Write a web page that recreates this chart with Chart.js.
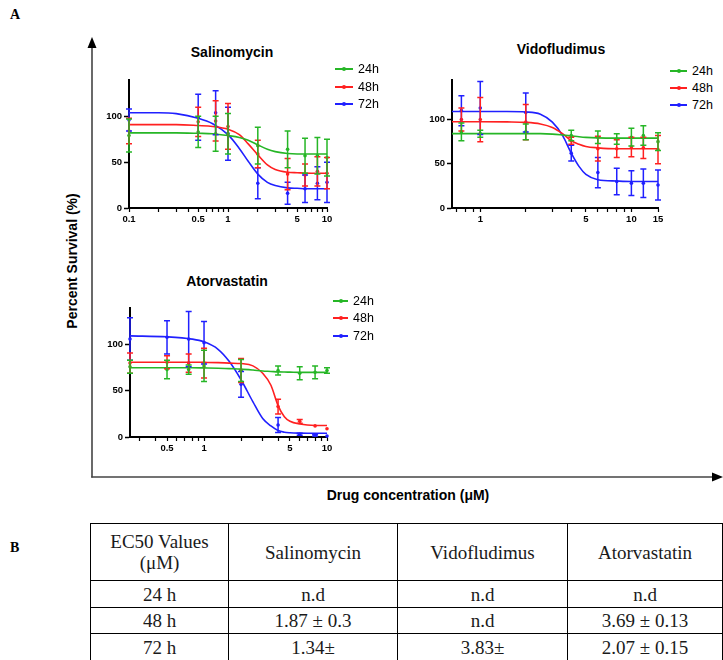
<!DOCTYPE html>
<html>
<head>
<meta charset="utf-8">
<script src="https://cdn.jsdelivr.net/npm/chart.js@4.4.1/dist/chart.umd.min.js"></script>
<style>
  html, body { margin: 0; padding: 0; background: #fff; }
  body { width: 723px; height: 660px; position: relative; overflow: hidden; font-family: 'Liberation Sans', Arial, sans-serif; color: #000; }
  canvas.panel { position: absolute; }
  .ptitle { position: absolute; font-weight: bold; font-size: 14px; transform: translate(-50%, -50%); white-space: nowrap; }
  .leg { position: absolute; font-size: 12.5px; }
  .leg div { position: absolute; left: 0; display: flex; align-items: center; height: 16px; transform: translateY(-50%); white-space: nowrap; }
  .leg .ln { display: inline-block; height: 2px; position: relative; margin-right: 5px; }
  .leg .ln i { position: absolute; left: 50%; top: 50%; width: 4px; height: 4px; margin: -2px 0 0 -2px; border-radius: 50%; background: inherit; }
  .serif { position: absolute; font-family: 'Liberation Serif', serif; font-weight: bold; font-size: 14px; }
  #ytitle { position: absolute; left: 72px; top: 261px; transform: translate(-50%, -50%) rotate(-90deg); font-weight: bold; font-size: 14px; white-space: nowrap; }
  #xtitle { position: absolute; left: 408px; top: 495px; transform: translate(-50%, -50%); font-weight: bold; font-size: 14px; white-space: nowrap; }
  #ec50 { position: absolute; left: 90px; top: 523px; border-collapse: collapse; font-family: 'Liberation Serif', serif; font-size: 19px; color: #1a1a1a; table-layout: fixed; }
  #ec50 td { border: 1px solid #000; text-align: center; vertical-align: middle; padding: 0; line-height: 21px; }
</style>
</head>
<body>
<div class="serif" style="left:10px; top:7px;">A</div>
<div class="serif" style="left:10px; top:540px;">B</div>

<svg style="position:absolute; left:0; top:0;" width="723" height="520">
  <line x1="92" y1="45" x2="92" y2="477.5" stroke="#444" stroke-width="1.6"/>
  <line x1="91.2" y1="477" x2="714" y2="477" stroke="#444" stroke-width="1.6"/>
  <polygon points="92,37 87.5,48 96.5,48" fill="#000"/>
  <polygon points="723,477 712,472.5 712,481.5" fill="#000"/>
</svg>
<div id="ytitle">Percent Survival (%)</div>
<div id="xtitle">Drug concentration (μM)</div>

<div class="ptitle" style="left:232px; top:52px;">Salinomycin</div>
<div class="ptitle" style="left:561px; top:49px;">Vidofludimus</div>
<div class="ptitle" style="left:227px; top:281px;">Atorvastatin</div>

<canvas id="salChart" class="panel"></canvas>
<canvas id="vidChart" class="panel"></canvas>
<canvas id="atoChart" class="panel"></canvas>

<div class="leg" id="salLeg" style="left:335px; top:0;"></div>
<div class="leg" id="vidLeg" style="left:670px; top:0;"></div>
<div class="leg" id="atoLeg" style="left:333px; top:0;"></div>

<table id="ec50"></table>

<script>
// series names and colours
const timeLabels = ['24h', '48h', '72h'];
const timeColors = ['#26b626', '#ff2020', '#2020ff'];
const yTicks = [0, 50, 100];

// Salinomycin
const salConc = [0.1, 0.5, 0.75, 1, 2, 4, 6, 8, 10];
const sal24 = [79, 83, 81, 81, 68, 64, 57, 57, 55];
const sal24Err = [18, 17, 19, 22, 20, 20, 19, 20, 20];
const sal48 = [84, 94, 95, 89, 59, 37, 36, 40, 38];
const sal48Err = [14, 16, 22, 25, 15, 17, 12, 16, 17];
const sal72 = [96, 99, 104, 81, 27, 16, 21, 27, 28];
const sal72Err = [12, 25, 24, 29, 17, 12, 15, 18, 22];
const salFitX = [0.1, 0.2, 0.3, 0.5, 0.7, 1, 1.3, 1.6, 2, 2.5, 3, 4, 5, 7, 10];
const salFit24 = [82, 82, 82, 81.5, 81, 79, 77, 74, 69, 64, 61.5, 59.5, 59, 59, 59];
const salFit48 = [91, 91, 91, 90, 89, 86, 80, 70, 58, 47, 42, 39, 38.5, 38, 38];
const salFit72 = [104, 104, 103, 98, 92, 80, 65, 51, 37, 28, 24.5, 22, 21.5, 21, 21];
const salTickLabels = [0.1, 0.5, 1, 5, 10];

// Vidofludimus
const vidConc = [0.75, 1, 2, 4, 6, 8, 10, 12, 15];
const vid24 = [86, 84, 86, 82, 80, 78, 80, 82, 75];
const vid24Err = [10, 4, 9, 6, 7, 6, 10, 11, 10];
const vid48 = [100, 100, 97, 76, 67, 67, 69, 68, 66];
const vid48Err = [13, 25, 20, 4, 14, 10, 11, 12, 16];
const vid72 = [110, 113, 108, 62, 40, 30, 28, 28, 26];
const vid72Err = [17, 30, 22, 9, 17, 15, 14, 16, 17];
const vidFitX = [0.65, 1, 1.5, 2, 2.5, 3, 3.5, 4, 4.5, 5, 6, 8, 10, 15];
const vidFit24 = [84, 84, 84, 84, 84, 83.5, 82.5, 81.5, 80.5, 79.8, 79.2, 79, 79, 79];
const vidFit48 = [97.5, 97.5, 97.3, 96.8, 95, 91, 84, 76, 72, 69.5, 68, 67, 67, 67];
const vidFit72 = [109, 109, 109, 108.5, 106, 97, 82, 62, 47, 38, 32, 30.5, 30, 30];
const vidTickLabels = [1, 5, 10, 15];

// Atorvastatin
const atoConc = [0.25, 0.5, 0.75, 1, 2, 4, 6, 8, 10];
const ato24 = [76, 73, 73, 77, 72, 72, 69, 70, 72];
const ato24Err = [7, 10, 5, 17, 12, 5, 7, 7, 3];
const ato48 = [80, 81, 80, 80, 72, 33, 17, 12, 9];
const ato48Err = [11, 7, 10, 16, 13, 8, 2, 0, 0];
const ato72 = [106, 108, 106, 102, 57, 13, 3, 2, 1];
const ato72Err = [23, 18, 30, 23, 14, 8, 1, 1, 0];
const atoFitX = [0.25, 0.5, 0.8, 1, 1.3, 1.6, 2, 2.5, 3, 3.5, 4, 4.5, 5, 6, 8, 10];
const atoFit24 = [75, 75, 75, 74.8, 74.5, 74, 73.5, 72.5, 71.5, 71, 70.5, 70.3, 70.2, 70, 70, 70];
const atoFit48 = [81, 81, 81, 80.8, 80.5, 80, 79.5, 77, 69, 56, 34, 22, 17, 14, 12.5, 12.5];
const atoFit72 = [109.5, 108.5, 106, 103, 95, 82, 62, 38, 20, 12, 7, 5.2, 4.6, 4.2, 4, 4];
const atoTickLabels = [0.5, 1, 5, 10];

// EC50 table (panel B)
const ecHeader = ['EC50 Values<br>(μM)', 'Salinomycin', 'Vidofludimus', 'Atorvastatin'];
const ecTimes = ['24 h', '48 h', '72 h'];
const ecSal = ['n.d', '1.87 ± 0.3', '1.34±'];
const ecVid = ['n.d', 'n.d', '3.83±'];
const ecAto = ['n.d', '3.69 ± 0.13', '2.07 ± 0.15'];

function pts(xs, ys) {
    return xs.map(function (x, i) { return { x: x, y: ys[i] }; });
}

function pointSet(i, xs, ys, err) {
    return {
        label: timeLabels[i], data: pts(xs, ys), errors: err,
        backgroundColor: timeColors[i], borderColor: timeColors[i],
        pointRadius: 1.8, pointBorderWidth: 0, showLine: false, clip: false
    };
}

function fitSet(i, xs, ys) {
    return {
        label: timeLabels[i] + ' fit', data: pts(xs, ys),
        borderColor: timeColors[i], backgroundColor: timeColors[i], borderWidth: 1.6,
        pointRadius: 0, showLine: true, cubicInterpolationMode: 'monotone', fill: false, clip: false
    };
}

// vertical error bars with caps, drawn via the chart scales
const errorBars = {
    id: 'errorBars',
    afterDatasetsDraw: function (chart) {
        const ctx = chart.ctx, xs = chart.scales.x, ys = chart.scales.y;
        for (let d = chart.data.datasets.length - 1; d >= 0; d--) {
            const ds = chart.data.datasets[d];
            if (!ds.errors) continue;
            ctx.save();
            ctx.strokeStyle = ds.borderColor;
            ctx.lineWidth = 1.5;
            ds.data.forEach(function (p, i) {
                const e = ds.errors[i];
                if (!e) return;
                const px = xs.getPixelForValue(p.x);
                const top = ys.getPixelForValue(p.y + e), bot = ys.getPixelForValue(p.y - e);
                ctx.beginPath();
                ctx.moveTo(px, top); ctx.lineTo(px, bot);
                ctx.moveTo(px - 3, top); ctx.lineTo(px + 3, top);
                ctx.moveTo(px - 3, bot); ctx.lineTo(px + 3, bot);
                ctx.stroke();
            });
            ctx.restore();
        }
    }
};

function near(a, b) { return Math.abs(a - b) < 1e-9; }

function logTicks(min, max, labels) {
    const out = [];
    for (let e = Math.floor(Math.log10(min)); e <= Math.ceil(Math.log10(max)); e++) {
        for (let m = 1; m <= 9; m++) {
            const v = parseFloat((m * Math.pow(10, e)).toPrecision(6));
            if (v >= min - 1e-9 && v <= max + 1e-9) out.push(v);
        }
    }
    labels.forEach(function (l) { if (!out.some(function (v) { return near(v, l); })) out.push(l); });
    return out.sort(function (a, b) { return a - b; });
}

function makePanel(id, area, xMin, xMax, yMax, xLabels, datasets) {
    const cv = document.getElementById(id);
    cv.style.left = (area.l - 40) + 'px';
    cv.style.top = (area.t - 6) + 'px';
    cv.width = area.r - area.l + 50;
    cv.height = area.b - area.t + 28;
    const tickFont = { family: "'Liberation Sans', Arial", size: 9.5, weight: 'bold' };
    return new Chart(cv, {
        type: 'scatter',
        data: { datasets: datasets },
        options: {
            responsive: false,
            animation: false,
            layout: { padding: { left: 0, top: 6, right: 10, bottom: 0 } },
            plugins: { legend: { display: false }, tooltip: { enabled: false } },
            scales: {
                x: {
                    type: 'logarithmic', min: xMin, max: xMax,
                    afterBuildTicks: function (s) { s.ticks = logTicks(xMin, xMax, xLabels).map(function (v) { return { value: v }; }); },
                    afterFit: function (s) { s.height = 22; },
                    ticks: {
                        autoSkip: false, maxRotation: 0, padding: 2, color: '#000', font: tickFont,
                        callback: function (v) { return xLabels.some(function (l) { return near(l, v); }) ? String(v) : ''; }
                    },
                    grid: { drawOnChartArea: false, tickLength: 4, color: '#000', tickWidth: 1.2 },
                    border: { color: '#000', width: 2 }
                },
                y: {
                    min: 0, max: yMax,
                    afterBuildTicks: function (s) { s.ticks = yTicks.map(function (v) { return { value: v }; }); },
                    afterFit: function (s) { s.width = 40; },
                    ticks: { padding: 2, color: '#000', font: tickFont },
                    grid: { drawOnChartArea: false, tickLength: 5, color: '#000', tickWidth: 1.5 },
                    border: { color: '#000', width: 2 }
                }
            }
        },
        plugins: [errorBars]
    });
}

function makeLegend(id, rowsY, lineW) {
    const box = document.getElementById(id);
    timeLabels.forEach(function (t, i) {
        const row = document.createElement('div');
        row.style.top = rowsY[i] + 'px';
        row.innerHTML = '<span class="ln" style="width:' + lineW + 'px;background:' + timeColors[i] + '"><i></i></span>' + t;
        box.appendChild(row);
    });
}

function buildTable() {
    const widths = [138, 169, 170, 155];
    const heights = [57, 27, 26, 27];
    const rows = [ecHeader];
    ecTimes.forEach(function (t, i) { rows.push([t, ecSal[i], ecVid[i], ecAto[i]]); });
    let html = '<colgroup>' + widths.map(function (w) { return '<col style="width:' + w + 'px">'; }).join('') + '</colgroup>';
    rows.forEach(function (r, i) {
        html += '<tr style="height:' + heights[i] + 'px">' + r.map(function (c) { return '<td>' + c + '</td>'; }).join('') + '</tr>';
    });
    const tbl = document.getElementById('ec50');
    tbl.style.width = widths.reduce(function (a, b) { return a + b; }, 0) + 'px';
    tbl.innerHTML = html;
}

makePanel('salChart', { l: 129, r: 327, t: 78, b: 208 }, 0.1, 10, 140, salTickLabels, [
    pointSet(0, salConc, sal24, sal24Err), pointSet(1, salConc, sal48, sal48Err), pointSet(2, salConc, sal72, sal72Err),
    fitSet(0, salFitX, salFit24), fitSet(1, salFitX, salFit48), fitSet(2, salFitX, salFit72)
]);
makePanel('vidChart', { l: 452, r: 658, t: 78, b: 208 }, 0.65, 15, 145, vidTickLabels, [
    pointSet(0, vidConc, vid24, vid24Err), pointSet(1, vidConc, vid48, vid48Err), pointSet(2, vidConc, vid72, vid72Err),
    fitSet(0, vidFitX, vidFit24), fitSet(1, vidFitX, vidFit48), fitSet(2, vidFitX, vidFit72)
]);
makePanel('atoChart', { l: 130, r: 327, t: 306, b: 437 }, 0.25, 10, 140, atoTickLabels, [
    pointSet(0, atoConc, ato24, ato24Err), pointSet(1, atoConc, ato48, ato48Err), pointSet(2, atoConc, ato72, ato72Err),
    fitSet(0, atoFitX, atoFit24), fitSet(1, atoFitX, atoFit48), fitSet(2, atoFitX, atoFit72)
]);

makeLegend('salLeg', [69, 87, 104], 18);
makeLegend('vidLeg', [71, 88, 105], 17);
makeLegend('atoLeg', [301, 318, 336], 15);
buildTable();
</script>
</body>
</html>
